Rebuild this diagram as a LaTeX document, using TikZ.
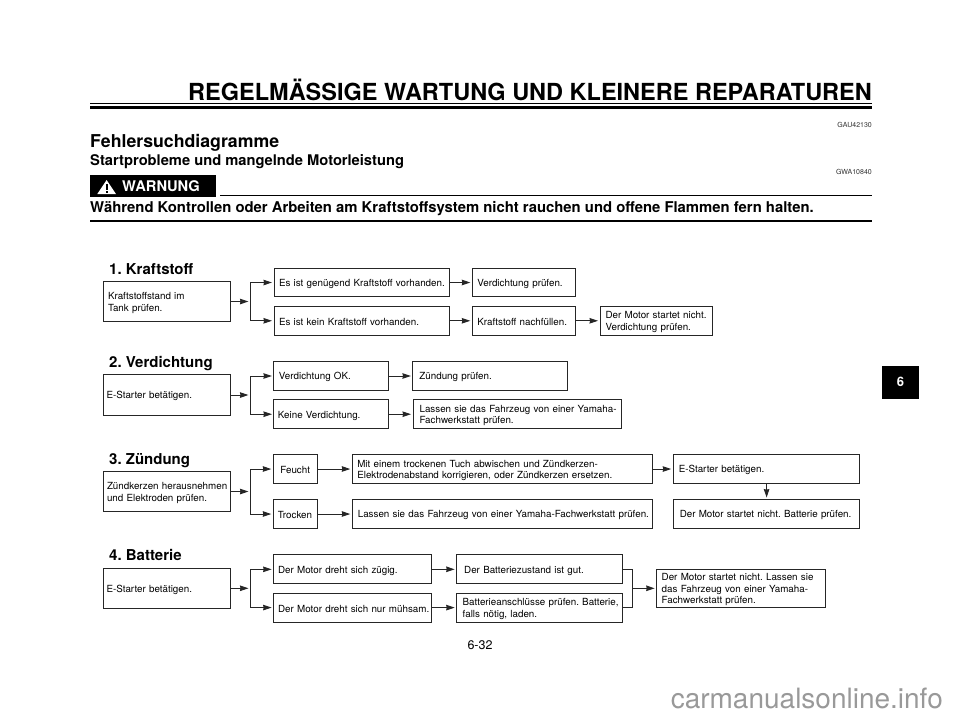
\documentclass[tikz,border=0pt]{standalone}
\usepackage{fontspec}
\setmainfont{TeX Gyre Heros}
\usepackage{tikz}
\usetikzlibrary{positioning,calc,arrows.meta}
\tikzset{>={Stealth[length=8.5pt,width=5.5pt,inset=.5pt]}}
\tikzset{
  box/.style 2 args={draw=black!85,line width=1pt,minimum height=28.8pt,inner ysep=0pt,
    inner xsep=#2pt,text width=#1pt-2*#2pt,align=left,text height=10pt,font=\fontsize{9.8}{11.7}\selectfont,
    execute at begin node={\hyphenpenalty=10000\rightskip=0pt plus 1fil minus 60pt\relax}},
  tall/.style={minimum height=40.4pt},
  link/.style={draw=black!85,line width=1pt},
  flow/.style={link,->,shorten >=1.5pt},
  title/.style={font=\bfseries\fontsize{#1}{#1}\selectfont,inner sep=0pt,anchor=base west},
  code/.style={font=\fontsize{7}{7}\selectfont,inner sep=0pt,anchor=base east,text=black!80},
  rule/.style={line width=#1pt,black}
}

\begin{document}
\frenchspacing
\begin{tikzpicture}[x=1pt,y=-1pt]
\useasboundingbox (0,0) rectangle (960,718);

% Page head
\node[title=23.5,anchor=base east] (head) at (872,100) {REGELMÄSSIGE WARTUNG UND KLEINERE REPARATUREN};
\draw[rule=1] (90,103.3) -- (872,103.3);
\draw[rule=2.6] (90,107.3) -- (872,107.3);
\node[code] (gau) at (872,127) {GAU42130};
\node[title=17.7] (sect) at (90,147) {Fehlersuchdiagramme};
\node[title=14.7] (sub) at (90,165) {Startprobleme und mangelnde Motorleistung};
\node[code] (gwa) at (872,174.3) {GWA10840};

% Warning
\fill[black] (90,174.7) rectangle (216,196.7);
\fill[white] (97.3,194) -- (106.6,180) -- (116,194) -- cycle;
\fill[black] (105.7,184) rectangle (107.5,190);
\fill[black] (105.7,191) rectangle (107.5,192.8);
\node[title=14.7,text=white] (warn) at (122,191) {WARNUNG};
\draw[rule=1.5] (220,195.3) -- (872,195.3);
\node[title=14.85] (warntext) at (90,212.7) {Während Kontrollen oder Arbeiten am Kraftstoffsystem nicht rauchen und offene Flammen fern halten.};
\draw[rule=2] (90,221) -- (872,221);

% 1
\node[title=15] (t1) at (109,274) {1. Kraftstoff};
\node[box={127}{5},tall] (K1) at (166.5,301.5) {Kraftstoffstand im\\Tank prüfen.};
\node[box={175}{5}] (K2) at (361.5,282.5) {Es ist genügend Kraftstoff vorhanden.};
\node[box={175}{5}] (K3) at (361.5,320.8) {Es ist kein Kraftstoff vorhanden.};
\node[box={103}{5}] (K4) at (523.8,282.5) {Verdichtung prüfen.};
\node[box={103}{5}] (K5) at (523.8,320.8) {Kraftstoff nachfüllen.};
\node[box={112.7}{5.5}] (K6) at (656.4,320.8) {Der Motor startet nicht.\\Verdichtung prüfen.};
\coordinate (Kj) at (250,301.5);
\draw[flow] (K1) -- (Kj);
\draw[flow] (Kj) |- (K2);
\draw[flow] (Kj) |- (K3);
\draw[flow] (K2) -- (K4);
\draw[flow] (K3) -- (K5);
\draw[flow] (K5) -- (K6);

% 2
\node[title=15] (t2) at (109,367) {2. Verdichtung};
\node[box={127}{3.5},tall] (V1) at (166.5,395) {E-Starter betätigen.};
\node[box={114.7}{5}] (V2) at (331.3,376) {Verdichtung OK.};
\node[box={114.7}{4}] (V3) at (331.3,414.2) {Keine Verdichtung.};
\node[box={154.7}{6.5}] (V4) at (490.3,376) {Zündung prüfen.};
\node[box={208.3}{6.5}] (V5) at (517.2,414.2) {Lassen sie das Fahrzeug von einer Yamaha-\\Fachwerkstatt prüfen.};
\coordinate (Vj) at (250,395);
\draw[flow] (V1) -- (Vj);
\draw[flow] (Vj) |- (V2);
\draw[flow] (Vj) |- (V3);
\draw[flow] (V2) -- (V4);
\draw[flow] (V3) -- (V5);

% 3
\node[title=15] (t3) at (109,464) {3. Zündung};
\node[box={127}{4},tall] (Z1) at (166.5,491.5) {Zündkerzen herausnehmen\\und Elektroden prüfen.};
\node[box={44.4}{7}] (Z2) at (295.5,469) {Feucht};
\node[box={44.4}{4.5}] (Z3) at (295.5,514) {Trocken};
\node[box={300.4}{5}] (Z4) at (502.5,469) {Mit einem trockenen Tuch abwischen und Zündkerzen-\\Elektrodenabstand korrigieren, oder Zündkerzen ersetzen.};
\node[box={300.4}{5.5}] (Z5) at (502.5,514) {Lassen sie das Fahrzeug von einer Yamaha-Fachwerkstatt prüfen.};
\node[box={186.7}{5.5}] (Z6) at (766.6,469) {E-Starter betätigen.};
\node[box={186.7}{6.5}] (Z7) at (766.6,514) {Der Motor startet nicht. Batterie prüfen.};
\coordinate (Zj) at (250,491.5);
\draw[flow] (Z1) -- (Zj);
\draw[flow] (Zj) |- (Z2);
\draw[flow] (Zj) |- (Z3);
\draw[flow] (Z2) -- (Z4);
\draw[flow] (Z3) -- (Z5);
\draw[flow] (Z4) -- (Z6);
\draw[flow] (Z6) -- (Z7);

% 4
\node[title=15] (t4) at (109,560.7) {4. Batterie};
\node[box={127}{3.5},tall] (B1) at (166.5,588.3) {E-Starter betätigen.};
\node[box={158.3}{4.5}] (B2) at (352.8,569.3) {Der Motor dreht sich zügig.};
\node[box={158.3}{4.5}] (B3) at (352.8,607.6) {Der Motor dreht sich nur mühsam.};
\node[box={166}{7.5}] (B4) at (539.7,569.3) {Der Batteriezustand ist gut.};
\node[box={166}{6}] (B5) at (539.7,607.6) {Batterieanschlüsse prüfen. Batterie,\\falls nötig, laden.};
\node[box={169}{5},minimum height=38pt] (B6) at (741.2,588.3) {Der Motor startet nicht. Lassen sie\\das Fahrzeug von einer Yamaha-\\Fachwerkstatt prüfen.};
\coordinate (Bj) at (250,588.3);
\coordinate (Bk) at (632.7,588.3);
\draw[flow] (B1) -- (Bj);
\draw[flow] (Bj) |- (B2);
\draw[flow] (Bj) |- (B3);
\draw[flow] (B2) -- (B4);
\draw[flow] (B3) -- (B5);
\draw[link] (B4) -| (Bk);
\draw[link] (B5) -| (Bk);
\draw[flow] (Bk) -- (B6);

% Page foot
\node[font=\fontsize{12.5}{12.5}\selectfont,inner sep=0pt,anchor=base] (page) at (480,649) {6-32};
\node[fill=black,text=white,minimum width=36.4pt,minimum height=33.3pt,inner sep=0pt,font=\bfseries\fontsize{13}{13}\selectfont] (tab) at (900.5,382.3) {6};
\node[font=\fontsize{28}{28}\selectfont,text=black!40,inner sep=0pt,anchor=base east] (mark) at (943,708) {carmanualsonline.info};
\end{tikzpicture}
\end{document}
